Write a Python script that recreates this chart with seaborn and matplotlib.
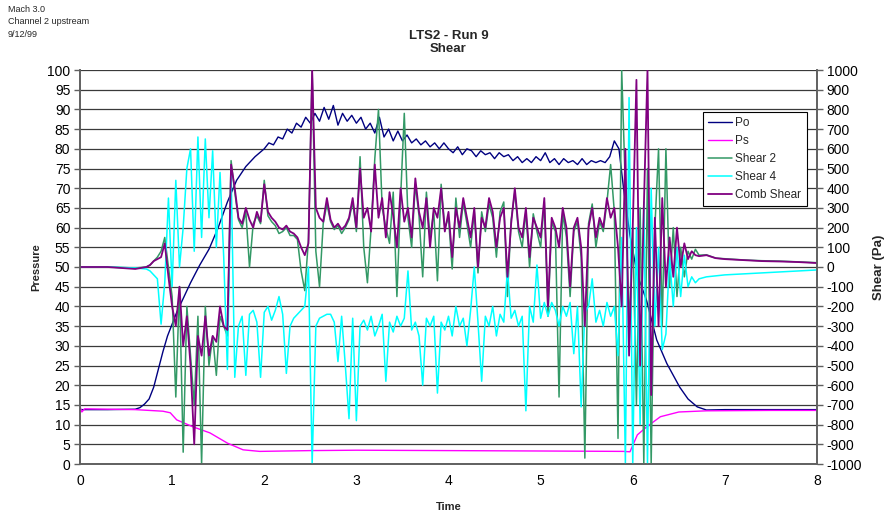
import numpy as np
import pandas as pd
import matplotlib
matplotlib.use("Agg")
import matplotlib.pyplot as plt
import seaborn as sns

# ---------------- data ----------------
po_t = [0, 0.3, 0.6, 0.65, 0.7, 0.75, 0.8, 0.85, 0.9, 0.95, 1.0, 1.05, 1.1, 1.2, 1.3, 1.4, 1.5,
        1.6, 1.7, 1.8, 1.9, 2.0,
        2.05, 2.1, 2.15, 2.2, 2.25, 2.3, 2.35, 2.4, 2.45, 2.5, 2.55, 2.6, 2.65, 2.7, 2.75, 2.8,
        2.85, 2.9, 2.95, 3.0, 3.05, 3.1, 3.15, 3.2, 3.25, 3.3, 3.35, 3.4, 3.45, 3.5, 3.55, 3.6,
        3.65, 3.7, 3.75, 3.8, 3.85, 3.9, 3.95, 4.0, 4.05, 4.1, 4.15, 4.2, 4.25, 4.3, 4.35, 4.4,
        4.45, 4.5, 4.55, 4.6, 4.65, 4.7, 4.75, 4.8, 4.85, 4.9, 4.95, 5.0, 5.05, 5.1, 5.15, 5.2,
        5.25, 5.3, 5.35, 5.4, 5.45, 5.5, 5.55, 5.6, 5.65, 5.7, 5.75, 5.8,
        5.85, 5.9, 5.97, 6.05, 6.15, 6.26, 6.37, 6.51, 6.6, 6.7, 6.8, 7.0, 7.5, 8.0]
po_v = [13.8, 13.8, 13.9, 14.3, 15.2, 16.5, 19.5, 24, 28.5, 32.5, 35.5, 38.5, 41, 46, 50.5, 54.5, 60,
        66.5, 72, 75.5, 78, 80,
        81.5, 81, 83, 82.5, 85, 84, 86.5, 85.5, 88, 86.5, 89, 87, 90.5, 87.5, 91, 86,
        89, 87, 88.5, 86.5, 88, 85, 86.5, 84, 88, 83, 85, 82, 84.5, 82, 83.5, 81.5,
        82.5, 81, 82, 80.5, 81.5, 80, 81.5, 80, 79, 80.5, 78.5, 80, 79.5, 78, 79.5, 78.5,
        79, 77.5, 79, 78, 78.5, 77, 78, 76.5, 77.5, 76.5, 78, 77, 79, 76.5, 77.5, 76,
        77.5, 76.5, 77, 76, 77.5, 76, 77, 76.5, 77, 76.5, 78, 82,
        80, 70, 58, 48, 41.5, 31.5, 25.5, 19.5, 16.5, 14.5, 13.7, 13.8, 13.8, 13.8]

ps_t = [0, 0.02, 0.05, 0.6, 0.9, 0.98, 1.05, 1.23, 1.41, 1.6, 1.77, 1.95, 2.5, 3.0, 4.0, 5.0,
        5.9, 5.97, 6.05, 6.15, 6.3, 6.5, 6.8, 7.5, 8.0]
ps_v = [14.6, 13.2, 14.0, 13.8, 13.4, 13.0, 11.2, 9.4, 7.9, 5.3, 3.6, 3.2, 3.4, 3.5, 3.4, 3.3,
        3.2, 3.1, 7.4, 9.4, 12.0, 13.2, 13.5, 13.6, 13.6]

# shear sample clock: lead-in, dense record (0.72 .. 6.72 every 0.04 s), tail
shear_head_t = [0, 0.3, 0.6]
shear_dense_t = np.round(np.arange(0.72, 6.7201, 0.04), 2).tolist()
shear_tail_t = [6.8, 6.9, 7.0, 7.2, 7.4, 7.6, 7.8, 8.0]

comb_v = [0, 0, -10,
          0, 10, 30, 40, 50, 120, -50, -200, -300, -100,
          -400, -250, -500, -900, -350, -450, -250, -450, -350, -380,
          -200, -300, -320, 520, 400, 250, 220, 300, 240, 200,
          280, 230, 420, 280, 250, 230, 200, 190, 210, 180,
          170, 150, 100, 60, 120, 1000, 300, 250, 230, 350,
          240, 200, 220, 190, 210, 250, 350, 200, 500, 250,
          300, 180, 520, 250, 350, 150, 380, 260, 100, 400,
          230, 300, 150, 450, 280, 200, 350, 100, 300, 250,
          400, 180, 280, 50, 300, 200, 350, 250, 150, 300,
          0, 250, 200, 350, 280, 100, 250, 300, -50, 220,
          400, 200, 150, 300, 50, 250, 200, 150, 350, -200,
          250, 200, 100, 300, 200, -100, 200, 250, 100, -300,
          200, 300, 150, 250, 200, 350, 250, 300, 100, -200,
          600, -450, 200, 950, -500, 300, 1000, -650, 250, -300,
          350, -100, 150, -50, 200, 0, 120, 40, 80, 60,
          55,
          60, 45, 40, 35, 30, 28, 25, 20]

shear2_v = [0, 0, -5,
            0, 10, 30, 50, 80, 150, 0, -150, -660, -100,
            -940, -200, -450, -700, -250, -1000, -200, -500, -350, -550,
            -250, -300, -350, 540, 380, 240, 200, 280, 0, 220,
            260, 220, 440, 260, 230, 210, 170, 180, 200, 160,
            160, 140, -20, -120, 140, 1000, 80, -100, 220, 320,
            230, 190, 210, 170, 200, 240, 330, 180, 560, 100,
            -80, 200, 550, 800, 300, 200, 120, 380, -150, 350,
            780, 250, 100, 420, 260, -50, 380, 150, 280, -70,
            420, 200, 250, -10, 350, 150, 330, 220, 100, 280,
            -30, 280, 180, 320, 250, 50, 280, 330, -150, 240,
            380, 180, 100, 280, 0, 270, 180, 100, 330, -250,
            230, 180, -660, 280, 150, -150, 180, 230, 50, -970,
            220, 320, 100, 230, 180, 330, 520, 280, -870, 1000,
            400, -300, 200, -700, 300, -1000, 500, -1000, 200, 600,
            -300, 600, -100, 200, -150, 100, -50, 80, 40, 90,
            60,
            62, 45, 42, 36, 32, 30, 26, 22]

shear4_v = [0, 0, -5,
            -10, -20, -40, -60, -290, -80, 350, -100, 440, 0,
            200, 500, 600, 80, 660, 150, 650, 250, 590, 100,
            480, 50, -520, 490, -560, -300, -250, -550, -240, -220,
            -280, -560, -230, -200, -270, -220, -150, -240, -540, -300,
            -260, -240, -220, -200, 0, -1000, -300, -260, -250, -240,
            -240, -280, -480, -250, -500, -770, -260, -780, -300, -270,
            -320, -250, -350, -300, -240, -580, -280, -330, -250, -300,
            -260, -20, -320, -280, -350, -600, -260, -300, -250, -640,
            -280, -320, -250, -350, -200, -300, -260, -400, -220, 0,
            -280, -580, -250, -300, -200, -350, -240, -280, -10, -260,
            -220, -300, -250, -730, -200, -280, 10, -260, -180, -250,
            -180, -220, -300, -200, -250, -180, -440, -200, -710, -230,
            -200, -60, -280, -220, -300, -180, -250, -200, -450, 150,
            -1000, 860, -1000, 200, -800, 330, -1000, 400, -300, 100,
            -420, -340, 50, -200, 100, -150, 60, -100, -50, -80,
            -60,
            -50, -45, -40, -35, -30, -25, -20, -15]

shear_t = shear_head_t + shear_dense_t + shear_tail_t

# ---------------- figure ----------------
sns.set_style("white")
plt.rcParams["font.family"] = ["Liberation Sans", "DejaVu Sans"]
plt.rcParams["axes.unicode_minus"] = False

fig = plt.figure(figsize=(8.91, 5.17), dpi=100)
ax = fig.add_axes([80 / 891, 1 - 464 / 517, (817 - 80) / 891, (464 - 70) / 517])
ax2 = ax.twinx()

df_p = pd.DataFrame({"t": po_t, "v": po_v})
df_s = pd.DataFrame({"t": ps_t, "v": ps_v})
df_2 = pd.DataFrame({"t": shear_t, "v": shear2_v})
df_4 = pd.DataFrame({"t": shear_t, "v": shear4_v})
df_c = pd.DataFrame({"t": shear_t, "v": comb_v})

sns.lineplot(data=df_p, x="t", y="v", ax=ax, color="#000080", lw=1.0, estimator=None, label="Po", legend=False)
sns.lineplot(data=df_s, x="t", y="v", ax=ax, color="#FF00FF", lw=1.0, estimator=None, label="Ps", legend=False)
sns.lineplot(data=df_2, x="t", y="v", ax=ax2, color="#339966", lw=1.1, estimator=None, label="Shear 2", legend=False)
sns.lineplot(data=df_4, x="t", y="v", ax=ax2, color="#00FFFF", lw=1.1, estimator=None, label="Shear 4", legend=False)
sns.lineplot(data=df_c, x="t", y="v", ax=ax2, color="#800080", lw=1.3, estimator=None, label="Comb Shear", legend=False)

ax.set_xlim(0, 8)
ax.set_ylim(0, 100)
ax2.set_ylim(-1000, 1000)
ax.set_xticks(range(0, 9))
ax.set_yticks(range(0, 101, 5))
ax2.set_yticks(range(-1000, 1001, 100))

ax.yaxis.grid(True, color="#3a3a3a", lw=0.9)
ax.xaxis.grid(False)
ax2.grid(False)

for a in (ax, ax2):
    for s in a.spines.values():
        s.set_color("#606060")
        s.set_linewidth(1.2)
    a.tick_params(axis="both", labelsize=10, colors="black", length=4, width=1, color="#606060", pad=3)
ax.spines["top"].set_visible(False)
ax2.spines["top"].set_visible(False)

ax.set_xlabel("Time", fontsize=8, fontweight="bold", labelpad=10)
ax.set_ylabel("Pressure", fontsize=8, fontweight="bold", labelpad=4)
ax2.set_ylabel("Shear (Pa)", fontsize=9.5, fontweight="bold", labelpad=8)

ax.set_title("LTS2 - Run 9\nShear", fontsize=9.5, fontweight="bold", pad=13, linespacing=1.12)

fig.text(8 / 891, 1 - 5 / 517, "Mach 3.0\nChannel 2 upstream\n9/12/99", fontsize=6.5,
         va="top", ha="left", linespacing=1.5)

h1, l1 = ax.get_legend_handles_labels()
h2, l2 = ax2.get_legend_handles_labels()
leg = ax2.legend(h1 + h2, l1 + l2, loc="upper right", bbox_to_anchor=(0.986, 0.893),
                 fontsize=8.5, frameon=True, fancybox=False, framealpha=1, edgecolor="black",
                 handlelength=2.0, handletextpad=0.3, borderpad=0.45, labelspacing=0.5,
                 borderaxespad=0)
leg.get_frame().set_linewidth(0.8)

fig.savefig("out.png", dpi=100)
